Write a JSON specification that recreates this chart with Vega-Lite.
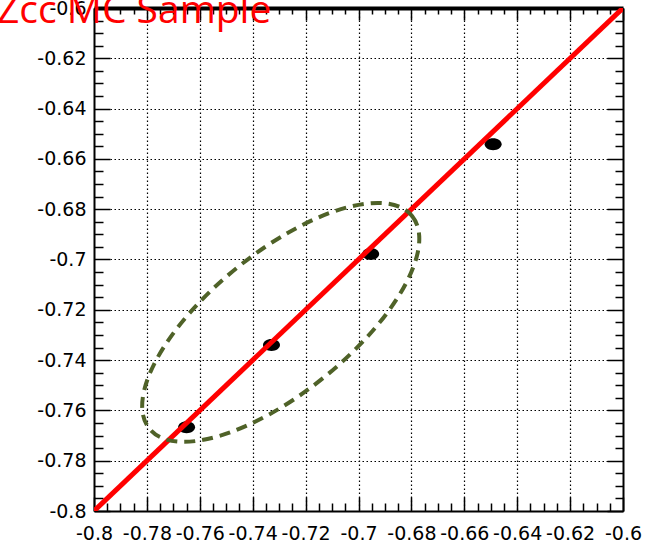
{
  "$schema": "https://vega.github.io/schema/vega-lite/v6.json",
  "width": 529,
  "height": 503,
  "autosize": {"type": "none"},
  "padding": {"left": 94, "top": 8, "right": 27, "bottom": 35},
  "background": "white",
  "title": {
    "text": "Zcc MC Sample",
    "color": "#ff0000",
    "font": "Open Sans",
    "fontSize": 39,
    "fontWeight": "normal",
    "anchor": "start",
    "frame": "group",
    "orient": "none",
    "align": "left",
    "baseline": "alphabetic",
    "dx": -97,
    "dy": 15
  },
  "config": {"view": {"stroke": null}},
  "datasets": {
    "diag": [{"x": -0.8, "y": -0.8, "x2": -0.6, "y2": -0.6}],
    "pts": [
      {"x": -0.765, "y": -0.7667},
      {"x": -0.7329, "y": -0.734},
      {"x": -0.6954, "y": -0.6978},
      {"x": -0.6491, "y": -0.6542}
    ],
    "ell": [{"x": -0.7294, "y": -0.725}]
  },
  "layer": [
    {
      "data": {"name": "pts"},
      "mark": {
        "type": "point",
        "shape": "M 1 0 C 1 0.3866 0.5523 0.7 0 0.7 C -0.5523 0.7 -1 0.3866 -1 0 C -1 -0.3866 -0.5523 -0.7 0 -0.7 C 0.5523 -0.7 1 -0.3866 1 0 Z",
        "size": 289,
        "filled": true,
        "color": "#000000",
        "opacity": 1
      },
      "encoding": {
        "x": {
          "field": "x", "type": "quantitative",
          "scale": {"domain": [-0.8, -0.6], "nice": false, "zero": false},
          "axis": {
            "orient": "top", "title": null, "labels": false, "grid": false,
            "values": [-0.8,-0.795,-0.79,-0.785,-0.78,-0.775,-0.77,-0.765,-0.76,-0.755,-0.75,-0.745,-0.74,-0.735,-0.73,-0.725,-0.72,-0.715,-0.71,-0.705,-0.7,-0.695,-0.69,-0.685,-0.68,-0.675,-0.67,-0.665,-0.66,-0.655,-0.65,-0.645,-0.64,-0.635,-0.63,-0.625,-0.62,-0.615,-0.61,-0.605,-0.6],
            "tickSize": {"condition": {"test": "abs(datum.value*50-round(datum.value*50))<0.01", "value": -12}, "value": -6},
            "tickColor": "#000000", "tickWidth": 1.5,
            "domainColor": "#000000", "domainWidth": 4
          }
        },
        "y": {
          "field": "y", "type": "quantitative",
          "scale": {"domain": [-0.8, -0.6], "nice": false, "zero": false},
          "axis": {
            "orient": "right", "title": null, "labels": false, "grid": false,
            "values": [-0.8,-0.795,-0.79,-0.785,-0.78,-0.775,-0.77,-0.765,-0.76,-0.755,-0.75,-0.745,-0.74,-0.735,-0.73,-0.725,-0.72,-0.715,-0.71,-0.705,-0.7,-0.695,-0.69,-0.685,-0.68,-0.675,-0.67,-0.665,-0.66,-0.655,-0.65,-0.645,-0.64,-0.635,-0.63,-0.625,-0.62,-0.615,-0.61,-0.605,-0.6],
            "tickSize": {"condition": {"test": "abs(datum.value*50-round(datum.value*50))<0.01", "value": -16}, "value": -8},
            "tickColor": "#000000", "tickWidth": 1.5,
            "domainColor": "#000000", "domainWidth": 2
          }
        }
      }
    },
    {
      "data": {"name": "diag"},
      "mark": {"type": "rule", "color": "#ff0000", "strokeWidth": 5, "clip": true},
      "encoding": {
        "x": {
          "field": "x", "type": "quantitative",
          "scale": {"domain": [-0.8, -0.6], "nice": false, "zero": false},
          "axis": {
            "orient": "bottom", "title": null,
            "values": [-0.8,-0.795,-0.79,-0.785,-0.78,-0.775,-0.77,-0.765,-0.76,-0.755,-0.75,-0.745,-0.74,-0.735,-0.73,-0.725,-0.72,-0.715,-0.71,-0.705,-0.7,-0.695,-0.69,-0.685,-0.68,-0.675,-0.67,-0.665,-0.66,-0.655,-0.65,-0.645,-0.64,-0.635,-0.63,-0.625,-0.62,-0.615,-0.61,-0.605,-0.6],
            "labelExpr": "abs(datum.value*50-round(datum.value*50))<0.01 ? ('' + datum.value) : ''",
            "labelFont": "DejaVu Sans", "labelFontSize": 19, "labelColor": "#000000",
            "labelOverlap": false, "labelFlush": false, "labelBound": false,
            "labelPadding": 27,
            "tickSize": {"condition": {"test": "abs(datum.value*50-round(datum.value*50))<0.01", "value": -14}, "value": -8},
            "tickColor": "#000000", "tickWidth": 1.5,
            "domainColor": "#000000", "domainWidth": 2,
            "grid": true, "gridColor": "#000000", "gridDash": [1.5, 2.5], "gridWidth": 1.2,
            "gridOpacity": {"condition": {"test": "abs(datum.value*50-round(datum.value*50))<0.01 && abs(datum.value+0.7)<0.09", "value": 1}, "value": 0}
          }
        },
        "y": {
          "field": "y", "type": "quantitative",
          "scale": {"domain": [-0.8, -0.6], "nice": false, "zero": false},
          "axis": {
            "orient": "left", "title": null,
            "values": [-0.8,-0.795,-0.79,-0.785,-0.78,-0.775,-0.77,-0.765,-0.76,-0.755,-0.75,-0.745,-0.74,-0.735,-0.73,-0.725,-0.72,-0.715,-0.71,-0.705,-0.7,-0.695,-0.69,-0.685,-0.68,-0.675,-0.67,-0.665,-0.66,-0.655,-0.65,-0.645,-0.64,-0.635,-0.63,-0.625,-0.62,-0.615,-0.61,-0.605,-0.6],
            "labelExpr": "abs(datum.value*50-round(datum.value*50))<0.01 ? ('' + datum.value) : ''",
            "labelFont": "DejaVu Sans", "labelFontSize": 19, "labelColor": "#000000",
            "labelOverlap": false, "labelFlush": false, "labelBound": false,
            "labelPadding": 24,
            "tickSize": {"condition": {"test": "abs(datum.value*50-round(datum.value*50))<0.01", "value": -16}, "value": -9},
            "tickColor": "#000000", "tickWidth": 1.5,
            "domainColor": "#000000", "domainWidth": 2,
            "grid": true, "gridColor": "#000000", "gridDash": [1.5, 2.5], "gridWidth": 1.2,
            "gridOpacity": {"condition": {"test": "abs(datum.value*50-round(datum.value*50))<0.01 && abs(datum.value+0.7)<0.09", "value": 1}, "value": 0}
          }
        },
        "x2": {"field": "x2"},
        "y2": {"field": "y2"}
      }
    },
    {
      "data": {"name": "ell"},
      "mark": {
        "type": "point",
        "shape": "M 1 0 C 1 0.2287 0.5523 0.414 0 0.414 C -0.5523 0.414 -1 0.2287 -1 0 C -1 -0.2287 -0.5523 -0.414 0 -0.414 C 0.5523 -0.414 1 -0.2287 1 0 Z",
        "size": 114244,
        "angle": 321,
        "filled": false,
        "stroke": "#4f6228",
        "strokeWidth": 4,
        "strokeDash": [11, 7],
        "opacity": 1
      },
      "encoding": {
        "x": {"field": "x", "type": "quantitative", "axis": null},
        "y": {"field": "y", "type": "quantitative", "axis": null}
      }
    }
  ],
  "resolve": {"axis": {"x": "independent", "y": "independent"}}
}
